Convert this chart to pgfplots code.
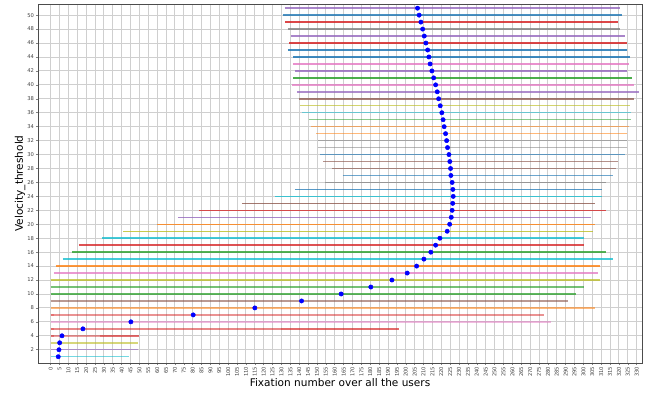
\documentclass[border=0pt]{standalone}
\usepackage{fontspec}
\setmainfont{DejaVu Sans}
\usepackage{pgfplots}
\pgfplotsset{compat=1.18}

% matplotlib tab10 palette
\definecolor{C0}{HTML}{1F77B4}
\definecolor{C1}{HTML}{FF7F0E}
\definecolor{C2}{HTML}{2CA02C}
\definecolor{C3}{HTML}{D62728}
\definecolor{C4}{HTML}{9467BD}
\definecolor{C5}{HTML}{8C564B}
\definecolor{C6}{HTML}{E377C2}
\definecolor{C7}{HTML}{7F7F7F}
\definecolor{C8}{HTML}{BCBD22}
\definecolor{C9}{HTML}{17BECF}

% one horizontal range: colour, opacity, start, end, threshold
\newcommand{\hrange}[5]{\addplot[#1, opacity=#2, line width=1.1pt, forget plot] coordinates {(#3,#5) (#4,#5)};}

\begin{document}
\begin{tikzpicture}
\begin{axis}[
  scale only axis,
  width=453pt, height=269.25pt,
  xmin=-7.1, xmax=333, ymin=0.1, ymax=51.6,
  enlargelimits=false,
  xtick={0,5,...,330}, ytick={2,4,...,50},
  /pgf/number format/assume math mode=true,
  xticklabel style={rotate=90, anchor=east, font=\fontsize{3.9}{4.5}\selectfont, text=black!75, inner sep=1pt},
  yticklabel style={font=\fontsize{3.9}{4.5}\selectfont, text=black!75, inner sep=1.2pt},
  tick align=outside, tick pos=left,
  major tick length=1.6pt,
  every tick/.style={black!50, line width=0.4pt},
  grid=major,
  major grid style={black!19, line width=0.7pt},
  axis line style={black!70, line width=0.6pt},
  xlabel={Fixation number over all the users},
  ylabel={Velocity\_threshold},
  label style={font=\fontsize{7.9}{9}\selectfont},
  xlabel style={at={(axis description cs:0.5,-0.0557)}, anchor=center},
  ylabel style={at={(axis description cs:-0.0298,0.5)}, anchor=center},
  clip=true,
]
% ranges of each threshold
\hrange{C9}{0.6}{0}{44}{1}
\hrange{C4}{0.6}{0}{49}{2}
\hrange{C8}{0.6}{0}{49}{3}
\hrange{C3}{0.45}{0}{50}{4}
\hrange{C3}{0.4}{28}{50}{4}
\hrange{C3}{0.4}{0}{2}{4}
\hrange{C3}{0.55}{0}{196}{5}
\hrange{C3}{0.3}{130}{196}{5}
\hrange{C3}{0.3}{0}{2}{5}
\hrange{C6}{0.5}{0}{281.5}{6}
\hrange{C3}{0.5}{0}{277.6}{7}
\hrange{C3}{0.3}{0}{2}{7}
\hrange{C1}{0.55}{0}{306.5}{8}
\hrange{C5}{0.6}{0}{291.5}{9}
\hrange{C2}{0.75}{0}{295.8}{10}
\hrange{C2}{0.65}{0}{300.5}{11}
\hrange{C8}{0.75}{0}{309.3}{12}
\hrange{C6}{0.75}{1.9}{308.5}{13}
\hrange{C1}{0.8}{3}{309.3}{14}
\hrange{C9}{0.8}{6.9}{316.4}{15}
\hrange{C2}{0.8}{12}{312.5}{16}
\hrange{C3}{0.8}{15.9}{300.5}{17}
\hrange{C9}{0.8}{28.9}{300.5}{18}
\hrange{C8}{0.8}{40.9}{305.4}{19}
\hrange{C1}{0.8}{59.9}{306.5}{20}
\hrange{C4}{0.8}{71.7}{304.2}{21}
\hrange{C3}{0.8}{83.7}{312.5}{22}
\hrange{C5}{0.8}{107.7}{306.5}{23}
\hrange{C9}{0.8}{126.5}{310.4}{24}
\hrange{C0}{0.75}{137.6}{310.4}{25}
\hrange{C7}{0.7}{154.4}{312.6}{26}
\hrange{C0}{0.65}{164.4}{316.4}{27}
\hrange{C5}{0.65}{158.4}{318.5}{28}
\hrange{C5}{0.65}{153.5}{319.4}{29}
\hrange{C0}{0.65}{151.6}{323.4}{30}
\hrange{C7}{0.55}{150.3}{324.3}{31}
\hrange{C7}{0.55}{150.3}{324.3}{32}
\hrange{C1}{0.55}{149.4}{324.3}{33}
\hrange{C1}{0.55}{146.6}{325.4}{34}
\hrange{C2}{0.55}{145.4}{326.6}{35}
\hrange{C9}{0.55}{141.5}{326.6}{36}
\hrange{C8}{0.65}{140.5}{326.4}{37}
\hrange{C5}{0.75}{139.6}{328.3}{38}
\hrange{C4}{0.75}{138.7}{331.3}{39}
\hrange{C6}{0.75}{135.7}{328.3}{40}
\hrange{C2}{0.85}{136.4}{327.3}{41}
\hrange{C4}{0.8}{137.6}{324.3}{42}
\hrange{C6}{0.8}{136.4}{325.4}{43}
\hrange{C0}{0.85}{136.4}{326.2}{44}
\hrange{C0}{0.85}{133.6}{324.3}{45}
\hrange{C3}{0.85}{134.5}{324.3}{46}
\hrange{C4}{0.8}{135.3}{323.4}{47}
\hrange{C7}{0.8}{133.6}{320.6}{48}
\hrange{C3}{0.85}{132}{319.4}{49}
\hrange{C0}{0.8}{130.6}{321.5}{50}
\hrange{C4}{0.8}{131.8}{320.6}{51}
% fixation reached at each threshold
\addplot[only marks, mark=*, mark size=1.6pt, color=blue] coordinates {
  (4.3,1) (4.7,2) (5.1,3) (6.4,4) (18.2,5) (45.2,6) (80.3,7) (115,8)
  (141.3,9) (163.6,10) (180.3,11) (192.2,12) (200.8,13) (206.1,14)
  (210.2,15) (214.1,16) (216.8,17) (219.2,18) (223.3,19) (224.7,20)
  (225.6,21) (226.1,22) (226.4,23) (226.7,24) (226.5,25) (226.1,26)
  (225.4,27) (225.2,28) (224.8,29) (224.3,30) (223.5,31) (223,32)
  (222.4,33) (221.6,34) (221,35) (220.3,36) (219.4,37) (218.5,38)
  (217.7,39) (216.8,40) (215.7,41) (214.7,42) (213.7,43) (213,44)
  (212.3,45) (211.3,46) (210.4,47) (209.5,48) (208.5,49) (207.5,50)
  (206.6,51)
};
\coordinate (frameSW) at (rel axis cs:0,0);
\coordinate (frameNE) at (rel axis cs:1,1);
\end{axis}
% page margins around the frame
\pgfresetboundingbox
\path[use as bounding box] ([shift={(-28.5pt,-23.25pt)}]frameSW) rectangle ([shift={(3pt,3pt)}]frameNE);
\end{tikzpicture}
\end{document}
